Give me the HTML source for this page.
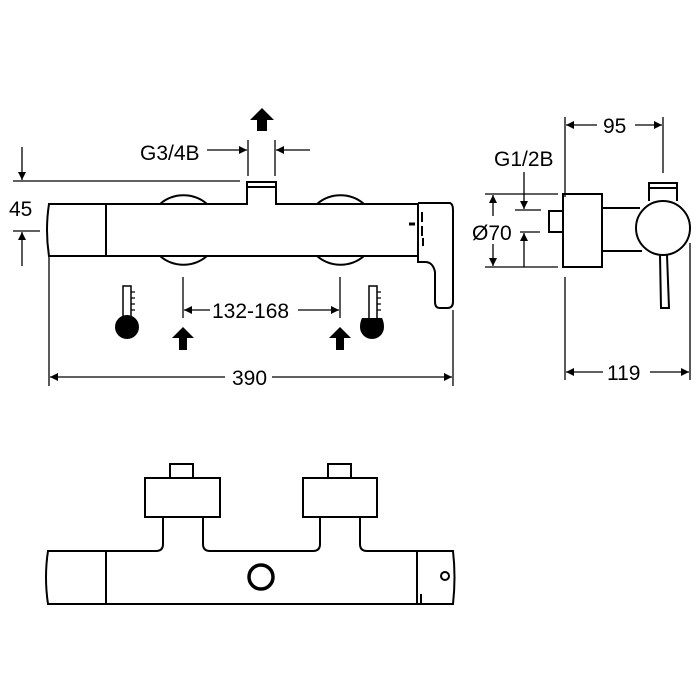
<!DOCTYPE html>
<html><head><style>body{margin:0;background:#fff}svg{display:block}text{font-family:"Liberation Sans",Arial,sans-serif;font-size:21px;fill:#000}</style></head><body>
<svg width="700" height="700" viewBox="0 0 700 700" xmlns="http://www.w3.org/2000/svg">
<defs>
<marker id="a" viewBox="0 0 10 10" refX="10" refY="5" markerWidth="11" markerHeight="8" markerUnits="userSpaceOnUse" orient="auto"><path d="M0,0L10,5L0,10z" fill="#000"/></marker>
</defs>
<g fill="none" stroke="#000" stroke-width="2">
<path d="M160,204 A36,36 0 0 1 207,204 M160,256 A36,36 0 0 0 207,256"/>
<path d="M317,204 A36,36 0 0 1 364,204 M317,256 A36,36 0 0 0 364,256"/>
<path d="M49,204 L247,204 L247,182 L276,182 L276,204 L418,204 L418,256 L49,256 Q45,230 49,204z"/>
<line x1="247" y1="187" x2="276" y2="187"/>
<line x1="106" y1="204" x2="106" y2="256"/>
<path d="M418,203 L450,203 Q453,204 453,210 L453,302 Q453,308 447,308 L440,308 Q435,308 435,302 L435,272 Q433,262 425,262 L418,262 L418,256"/>
<line x1="422" y1="212" x2="422" y2="222"/><line x1="422" y1="226" x2="422" y2="236"/><line x1="409" y1="224" x2="415" y2="224" stroke-width="3"/>
<line x1="423" y1="238" x2="423" y2="246"/>
<line x1="13" y1="181" x2="240" y2="181" stroke-width="1.3"/>
<line x1="13" y1="231" x2="40" y2="231" stroke-width="1.3"/>
<line x1="22" y1="147" x2="22" y2="180" stroke-width="1.3" marker-end="url(#a)"/>
<line x1="22" y1="266" x2="22" y2="232" stroke-width="1.3" marker-end="url(#a)"/>
<line x1="248" y1="140" x2="248" y2="176" stroke-width="1.3"/><line x1="275" y1="140" x2="275" y2="176" stroke-width="1.3"/>
<line x1="207" y1="150" x2="247" y2="150" stroke-width="1.3" marker-end="url(#a)"/>
<line x1="310" y1="150" x2="276" y2="150" stroke-width="1.3" marker-end="url(#a)"/>
<line x1="183" y1="277" x2="183" y2="318" stroke-width="1.3"/><line x1="340" y1="277" x2="340" y2="318" stroke-width="1.3"/>
<line x1="210" y1="310" x2="184" y2="310" stroke-width="1.3" marker-end="url(#a)"/>
<line x1="298" y1="310" x2="339" y2="310" stroke-width="1.3" marker-end="url(#a)"/>
<line x1="49" y1="256" x2="49" y2="386" stroke-width="1.3"/><line x1="453" y1="310" x2="453" y2="386" stroke-width="1.3"/>
<line x1="225" y1="377" x2="50" y2="377" stroke-width="1.3" marker-end="url(#a)"/>
<line x1="272" y1="377" x2="452" y2="377" stroke-width="1.3" marker-end="url(#a)"/>
<rect x="123" y="286" width="8" height="34" stroke-width="1.5"/>
<rect x="369" y="286" width="8" height="34" stroke-width="1.5"/>
<path d="M131,292h4M131,298h4M131,304h4M131,310h4M377,292h4M377,298h4M377,304h4M377,310h4" stroke-width="1.3"/>
<rect x="563" y="194" width="39" height="73"/>
<rect x="549" y="211" width="14" height="21"/>
<path d="M602,208 L640,208 M602,251 L642,251"/>
<circle cx="663" cy="228" r="27"/>
<path d="M649,201 L649,183 L677,183 L677,201 M650,188 L676,188"/>
<path d="M660,255 L661,308 L669,308 L667,255"/>
<line x1="565" y1="117" x2="565" y2="197" stroke-width="1.3"/><line x1="565" y1="277" x2="565" y2="380" stroke-width="1.3"/>
<line x1="663" y1="117" x2="663" y2="173" stroke-width="1.3"/>
<line x1="597" y1="125" x2="566" y2="125" stroke-width="1.3" marker-end="url(#a)"/>
<line x1="635" y1="125" x2="662" y2="125" stroke-width="1.3" marker-end="url(#a)"/>
<line x1="485" y1="194" x2="558" y2="194" stroke-width="1.3"/><line x1="485" y1="267" x2="558" y2="267" stroke-width="1.3"/>
<line x1="515" y1="210" x2="541" y2="210" stroke-width="1.3"/><line x1="520" y1="232" x2="540" y2="232" stroke-width="1.3"/>
<line x1="493" y1="216" x2="493" y2="195" stroke-width="1.3" marker-end="url(#a)"/>
<line x1="493" y1="244" x2="493" y2="266" stroke-width="1.3" marker-end="url(#a)"/>
<line x1="524" y1="172" x2="524" y2="209" stroke-width="1.3" marker-end="url(#a)"/>
<line x1="524" y1="267" x2="524" y2="233" stroke-width="1.3" marker-end="url(#a)"/>
<line x1="690" y1="243" x2="690" y2="380" stroke-width="1.3"/>
<line x1="603" y1="372" x2="566" y2="372" stroke-width="1.3" marker-end="url(#a)"/>
<line x1="650" y1="372" x2="689" y2="372" stroke-width="1.3" marker-end="url(#a)"/>
<path d="M48,551 L156,551 Q163,551 163,544 L163,517 L203,517 L203,544 Q203,551 210,551 L313,551 Q320,551 320,544 L320,517 L360,517 L360,544 Q360,551 367,551 L453,551 Q456,577 453,604 L48,604 Q44,577 48,551z"/>
<rect x="145" y="478" width="75" height="39"/><rect x="170" y="464" width="23" height="14"/>
<rect x="303" y="478" width="74" height="39"/><rect x="328" y="464" width="23" height="14"/>
<line x1="106" y1="551" x2="106" y2="604"/><line x1="417" y1="551" x2="417" y2="604"/>
<line x1="421" y1="594" x2="421" y2="605"/>
<circle cx="261" cy="577" r="12" stroke-width="3.5"/>
<circle cx="445" cy="576" r="4"/>
</g>
<g fill="#000">
<circle cx="127" cy="327" r="12"/>
<path d="M360,327 A12,12 0 1 0 384,327 Q384,322 382,318 L362,318 Q360,322 360,327z"/>
<path d="M262,108 L250,120 L257,120 L257,131 L267,131 L267,120 L274,120z"/>
<path d="M183,327 L172,338 L179,338 L179,350 L187,350 L187,338 L194,338z"/>
<path d="M340,327 L329,338 L336,338 L336,350 L344,350 L344,338 L351,338z"/>
</g>
<text x="140" y="160">G3/4B</text>
<text x="9" y="216">45</text>
<text x="212" y="318">132-168</text>
<text x="232" y="385">390</text>
<text x="603" y="133">95</text>
<text x="494" y="166">G1/2B</text>
<text x="472" y="240">Ø70</text>
<text x="607" y="380">119</text>
</svg>
</body></html>
